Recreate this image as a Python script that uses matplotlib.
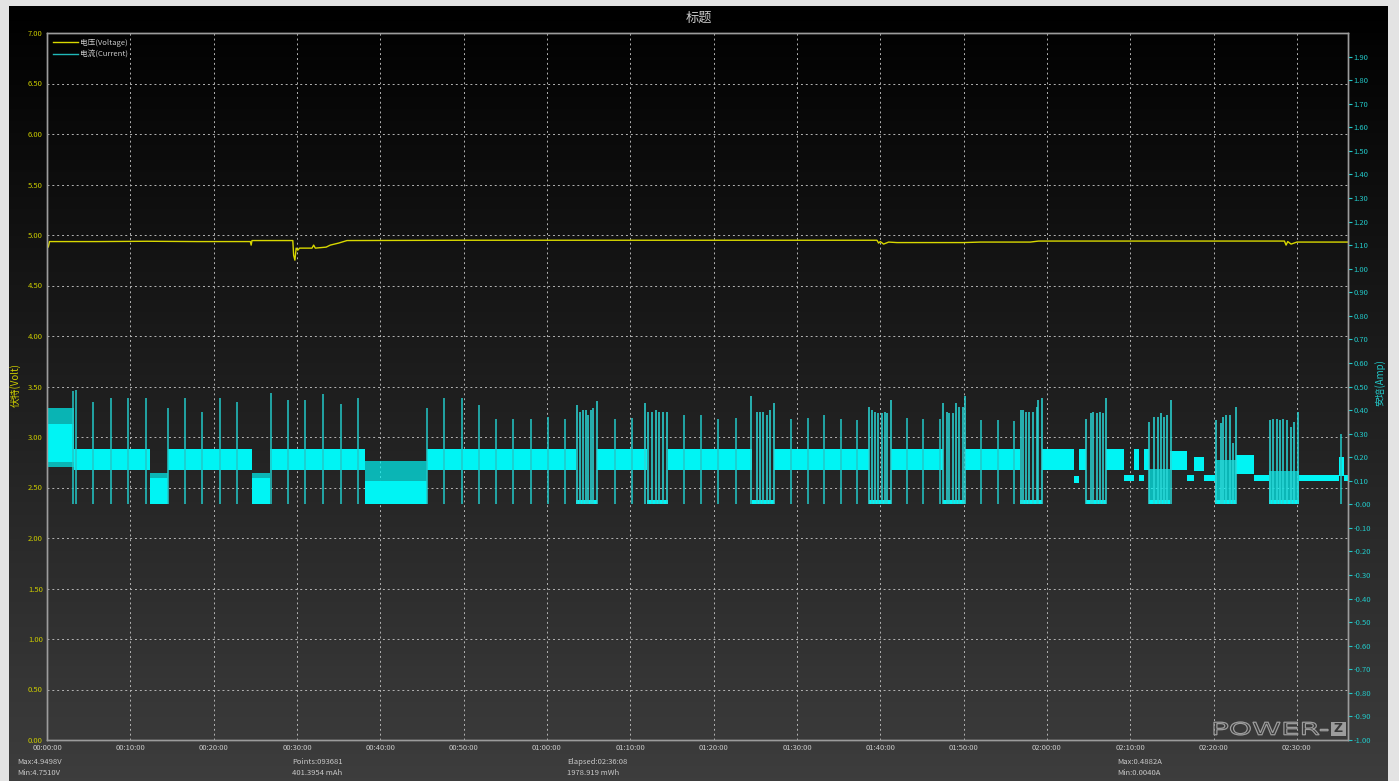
import numpy as np
import matplotlib
matplotlib.use('Agg')
import matplotlib.pyplot as plt
from matplotlib.colors import LinearSegmentedColormap
from matplotlib.lines import Line2D
from matplotlib.patches import PathPatch, Rectangle
from matplotlib.textpath import TextPath
from matplotlib.font_manager import FontProperties
from matplotlib.transforms import Affine2D

plt.rcParams['font.family'] = ['Noto Sans CJK SC', 'DejaVu Sans']

W, H = 1399, 781

# 电压曲线 (分钟, V)
volt_t = [0.0, 0.15, 0.3, 6.0, 12.0, 18.0, 24.4, 24.5, 24.6, 29.5, 29.6, 29.75,
          29.9, 30.1, 30.3, 31.0, 31.8, 32.0, 32.2, 33.5, 34.0, 35.0, 36.0, 50.0,
          80.0, 99.6, 99.8, 100.0, 100.4, 101.0, 102.0, 110.0, 112.0, 118.0,
          119.0, 138.0, 148.5, 148.7, 148.9, 149.3, 150.0, 156.13]
volt_v = [4.90, 4.88, 4.935, 4.935, 4.938, 4.935, 4.935, 4.90, 4.945, 4.945, 4.80,
          4.751, 4.87, 4.85, 4.87, 4.87, 4.87, 4.90, 4.87, 4.88, 4.90, 4.92, 4.945,
          4.948, 4.948, 4.948, 4.92, 4.935, 4.91, 4.93, 4.925, 4.925, 4.93, 4.93,
          4.94, 4.94, 4.94, 4.90, 4.935, 4.91, 4.93, 4.93]

# 电流: 实心带 (起, 止, 下限A, 上限A)
cur_bands = [
    (0.0, 3.3, 0.18, 0.34), (3.3, 12.4, 0.145, 0.235), (12.4, 14.5, 0.0, 0.11),
    (14.5, 24.6, 0.145, 0.235), (24.6, 26.8, 0.0, 0.11), (26.8, 38.2, 0.145, 0.235),
    (38.2, 45.6, 0.0, 0.10), (45.6, 63.5, 0.145, 0.235), (63.5, 66.0, 0.0, 0.02),
    (66.0, 72.0, 0.145, 0.235), (72.0, 74.5, 0.0, 0.02), (74.5, 84.6, 0.145, 0.235),
    (84.6, 87.2, 0.0, 0.02), (87.2, 98.6, 0.145, 0.235), (98.6, 101.3, 0.0, 0.02),
    (101.3, 107.5, 0.145, 0.235), (107.5, 110.2, 0.0, 0.02), (110.2, 116.8, 0.145, 0.235),
    (116.8, 119.4, 0.0, 0.02), (119.4, 123.2, 0.145, 0.235), (123.2, 123.8, 0.09, 0.12),
    (123.8, 124.7, 0.145, 0.235), (124.7, 127.1, 0.0, 0.02), (127.1, 129.2, 0.145, 0.235),
    (129.2, 130.4, 0.10, 0.125), (130.4, 131.0, 0.145, 0.235), (131.0, 131.6, 0.10, 0.125),
    (131.6, 132.2, 0.145, 0.235), (132.2, 134.8, 0.0, 0.02), (134.8, 136.8, 0.145, 0.225),
    (136.8, 137.6, 0.10, 0.125), (137.6, 138.8, 0.14, 0.20), (138.8, 140.2, 0.10, 0.125),
    (140.2, 142.7, 0.0, 0.02), (142.7, 144.8, 0.13, 0.21), (144.8, 146.6, 0.10, 0.125),
    (146.6, 150.2, 0.0, 0.02), (150.2, 155.0, 0.10, 0.125), (155.0, 155.6, 0.12, 0.20),
    (155.6, 156.13, 0.10, 0.125),
]
# 细密脉冲区 (半透明)
cur_fuzz = [
    (0.0, 3.3, 0.34, 0.41), (0.0, 3.3, 0.16, 0.18), (12.4, 14.5, 0.11, 0.135),
    (24.6, 26.8, 0.11, 0.135), (38.2, 45.6, 0.10, 0.185),
    (132.2, 134.8, 0.02, 0.15), (140.2, 142.7, 0.02, 0.19), (146.6, 150.2, 0.02, 0.14),
]
# 单个尖峰 (分钟, 峰值A)
spike_t = [3.16, 3.48, 5.56, 7.64, 9.76, 11.88, 14.52, 16.56, 18.64, 20.76, 22.76,
           26.84, 28.88, 30.96, 33.16, 35.24, 37.28, 45.56, 47.68, 49.76, 51.84,
           53.88, 55.96, 58.04, 60.1, 62.16, 68.16, 70.16, 76.48, 78.48, 80.56,
           82.64, 89.28, 91.36, 93.28, 95.24, 97.24, 103.16, 105.16, 107.16,
           112.08, 114.08, 116.04, 155.3]
spike_a = [0.479, 0.486, 0.436, 0.45, 0.45, 0.453, 0.41, 0.45, 0.393, 0.45, 0.436,
           0.474, 0.443, 0.443, 0.467, 0.424, 0.45, 0.41, 0.45, 0.45, 0.422,
           0.362, 0.362, 0.362, 0.37, 0.364, 0.362, 0.367, 0.379, 0.379, 0.362,
           0.367, 0.362, 0.367, 0.379, 0.364, 0.357, 0.367, 0.362, 0.362,
           0.357, 0.357, 0.353, 0.30]
# 断续段内的密集脉冲
burst_t = [63.56, 63.96, 64.36, 64.64, 64.96, 65.28, 65.56, 65.96,
           71.76, 72.16, 72.64, 73.08, 73.48, 73.88, 74.36,
           84.48, 85.16, 85.56, 85.96, 86.36, 86.76, 87.24,
           98.68, 98.96, 99.36, 99.76, 100.16, 100.56, 100.84, 101.24,
           107.56, 107.96, 108.28, 108.68, 109.08, 109.48, 109.88, 110.16,
           116.84, 117.08, 117.48, 117.88, 118.28, 118.76, 118.96, 119.36,
           124.68, 125.28, 125.56, 125.96, 126.36, 126.76, 127.08,
           132.28, 132.88, 133.28, 133.64, 134.04, 134.36, 134.84,
           140.28, 140.84, 141.16, 141.48, 141.96, 142.28, 142.68,
           146.76, 147.16, 147.56, 147.96, 148.36, 148.84, 149.24, 149.64, 150.16]
burst_a = [0.42, 0.39, 0.40, 0.40, 0.38, 0.40, 0.41, 0.44,
           0.43, 0.39, 0.39, 0.40, 0.39, 0.39, 0.39,
           0.46, 0.39, 0.39, 0.39, 0.38, 0.40, 0.43,
           0.415, 0.40, 0.393, 0.386, 0.386, 0.393, 0.386, 0.443,
           0.43, 0.393, 0.386, 0.386, 0.43, 0.415, 0.415, 0.46,
           0.40, 0.40, 0.393, 0.393, 0.393, 0.415, 0.443, 0.453,
           0.364, 0.386, 0.39, 0.386, 0.39, 0.386, 0.453,
           0.35, 0.372, 0.372, 0.386, 0.372, 0.379, 0.443,
           0.357, 0.343, 0.372, 0.379, 0.379, 0.26, 0.415,
           0.357, 0.364, 0.364, 0.357, 0.364, 0.357, 0.328, 0.35, 0.393]

x_ticks = list(range(0, 160, 10))
x_labels = ['00:00:00', '00:10:00', '00:20:00', '00:30:00', '00:40:00', '00:50:00',
            '01:00:00', '01:10:00', '01:20:00', '01:30:00', '01:40:00', '01:50:00',
            '02:00:00', '02:10:00', '02:20:00', '02:30:00']
volt_ticks = np.arange(0, 7.01, 0.5)
amp_ticks = np.arange(-1.0, 1.91, 0.1)

stats = [(17, 'Max:4.9498V', 'Min:4.7510V'),
         (292, 'Points:093681', '401.3954 mAh'),
         (567, 'Elapsed:02:36:08', '1978.919 mWh'),
         (1117, 'Max:0.4882A', 'Min:0.0040A')]

YEL = '#cccc00'
CYAN = '#00f4f4'
CYAN_LINE = '#22c8c8'
TXT = '#c8c8c8'

fig = plt.figure(figsize=(W / 100, H / 100), dpi=100, facecolor='#e3e3e3')

# 背景渐变
bg = fig.add_axes([9 / W, 0, (1388 - 9) / W, (H - 6) / H])
cmap = LinearSegmentedColormap.from_list('bg', ['#000000', '#3d3d3d'])
bg.imshow(np.linspace(0, 1, 256)[:, None], aspect='auto', cmap=cmap,
          extent=[0, 1, 0, 1], origin='upper')
bg.axis('off')

ax = fig.add_axes([47 / W, (H - 740) / H, (1348 - 47) / W, (740 - 33) / H])
ax.set_facecolor('none')
ax.set_xlim(0, 156.13)
ax.set_ylim(0, 7)
ax.set_xticks(x_ticks)
ax.set_xticklabels(x_labels)
ax.set_yticks(volt_ticks)
ax.set_yticklabels(['%.2f' % v for v in volt_ticks])
ax.grid(True, color='#b4b4b4', linestyle=(0, (2, 3)), linewidth=0.7)
ax.tick_params(axis='x', labelcolor=TXT, labelsize=5.5, length=0, pad=3)
ax.tick_params(axis='y', labelcolor=YEL, labelsize=5.5, length=0, pad=3)

vline, = ax.plot(volt_t, volt_v, color='#d8d800', lw=1.0)

ax2 = ax.twinx()
ax2.set_ylim(-1, 2)
ax2.set_yticks(amp_ticks)
ax2.set_yticklabels(['%.2f' % a for a in amp_ticks])
ax2.tick_params(axis='y', colors=CYAN_LINE, labelsize=5.5, length=3, pad=1)

for t0, t1, lo, hi in cur_fuzz:
    ax2.fill_between([t0, t1], [lo, lo], [hi, hi], color=CYAN, alpha=0.7, lw=0)
ax2.vlines(spike_t, 0.0, spike_a, color=CYAN_LINE, lw=1.1)
ax2.vlines(burst_t, 0.0, burst_a, color='#2ad8d8', lw=1.1)
for t0, t1, lo, hi in cur_bands:
    ax2.fill_between([t0, t1], [lo, lo], [hi, hi], color=CYAN, lw=0)

for a in (ax, ax2):
    for s in a.spines.values():
        s.set_color('#9c9c9c')
        s.set_linewidth(1.0)

ax.legend(handles=[vline, Line2D([], [], color='#20b8b8', lw=1.0)],
          labels=['电压(Voltage)', '电流(Current)'], loc='upper left',
          frameon=False, fontsize=5.5, labelcolor=TXT, handlelength=3.2,
          handletextpad=0.3, labelspacing=0.4, borderaxespad=0.4)

fig.text(699 / W, 1 - 18 / H, '标题', color=TXT, fontsize=9.5, ha='center', va='center')
fig.text(15 / W, 1 - 385 / H, '伏特(Volt)', color=YEL, fontsize=7, rotation=90,
         ha='center', va='center')
fig.text(1380 / W, 1 - 383 / H, '安培(Amp)', color=CYAN_LINE, fontsize=7, rotation=90,
         ha='center', va='center')

for x, l1, l2 in stats:
    fig.text(x / W, 1 - 762 / H, l1, color=TXT, fontsize=5.5, va='center')
    fig.text(x / W, 1 - 773 / H, l2, color=TXT, fontsize=5.5, va='center')

# 水印: 加宽的空心字 + 方框 Z
tp = TextPath((0, 0), 'POWER-', size=1, prop=FontProperties(family='DejaVu Sans'))
bb = tp.get_extents()
sx = 114 / bb.width
sy = 13 / bb.height
to_fig = Affine2D().translate(-bb.x0, -bb.y0).scale(sx, sy).translate(1214, H - 735) \
    + Affine2D().scale(1 / W, 1 / H)
fig.add_artist(PathPatch(to_fig.transform_path(tp), transform=fig.transFigure,
                         facecolor='none', edgecolor='#9c9c9c', lw=0.9))
fig.add_artist(Rectangle((1331 / W, (H - 736) / H), 15 / W, 14 / H,
                         transform=fig.transFigure, facecolor='#9c9c9c', edgecolor='none'))
fig.text(1338.5 / W, 1 - 729 / H, 'Z', color='#383838', fontsize=9, family='DejaVu Sans',
         fontweight='bold', ha='center', va='center')

fig.savefig('out.png', dpi=100, facecolor=fig.get_facecolor())
